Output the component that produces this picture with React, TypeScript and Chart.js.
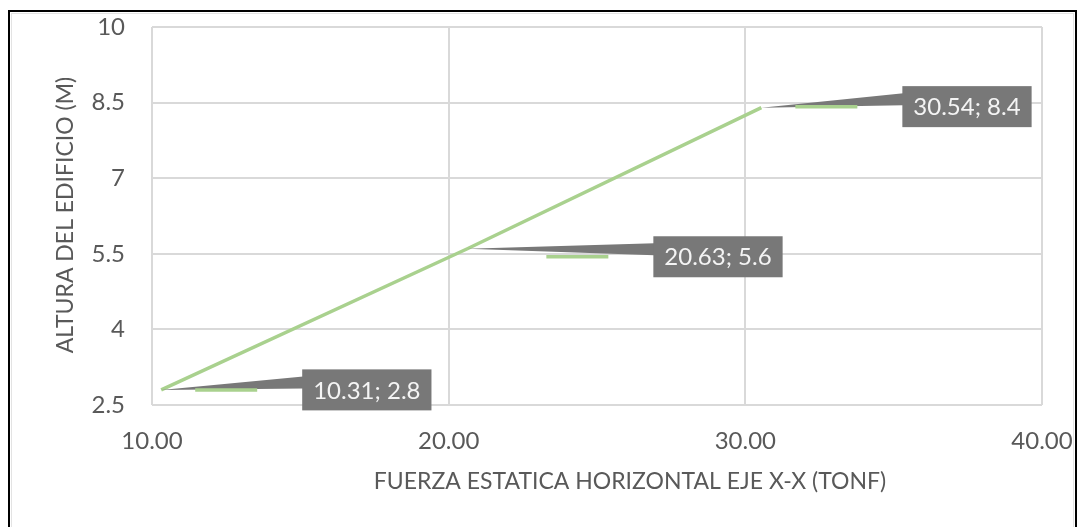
import React, { useEffect, useRef } from "react";
import { Chart, registerables } from "chart.js";

Chart.register(...registerables);

// Fuerza estática horizontal por nivel (tonf) y altura del nivel (m)
const fuerza: number[] = [10.31, 20.63, 30.54];
const altura: number[] = [2.8, 5.6, 8.4];

// Ejes
const xTitle = "FUERZA ESTATICA HORIZONTAL EJE X-X (TONF)";
const yTitle = "ALTURA DEL EDIFICIO (M)";
const xMin = 10;
const xMax = 40;
const xStep = 10;
const yMin = 2.5;
const yMax = 10;
const yStep = 1.5;

// Desplazamiento de cada etiqueta respecto a su punto (px)
const calloutOffsets: { dx: number; dy: number }[] = [
  { dx: 141, dy: 0 },
  { dx: 186, dy: 8 },
  { dx: 141, dy: -1 },
];

const FONT = "Lato, 'Open Sans', sans-serif";
const TEXT_GREY = "#595959";
const GRID_GREY = "#d9d9d9";
const LINE_GREEN = "#a9d18e";
const CALLOUT_GREY = "#787878";

const W = 1079;
const H = 527;

const framePlugin = {
  id: "frame",
  beforeDraw(chart: any) {
    const ctx = chart.ctx;
    ctx.save();
    ctx.fillStyle = "#ffffff";
    ctx.fillRect(0, 0, chart.width, chart.height);
    ctx.restore();
  },
  afterDraw(chart: any) {
    const ctx = chart.ctx;
    ctx.save();
    // axis titles
    ctx.fillStyle = TEXT_GREY;
    ctx.font = `23px ${FONT}`;
    ctx.textAlign = "center";
    ctx.textBaseline = "middle";
    ctx.fillText(xTitle, 630, 482);
    ctx.save();
    ctx.translate(66, 215);
    ctx.rotate(-Math.PI / 2);
    ctx.fillText(yTitle, 0, 0);
    ctx.restore();

    // outer frame
    ctx.strokeStyle = "#000000";
    ctx.lineWidth = 2;
    ctx.strokeRect(9, 11, 1067, 600);
    ctx.strokeStyle = "#e3e3e3";
    ctx.lineWidth = 1;
    ctx.strokeRect(11.5, 13.5, 1062, 600);
    ctx.restore();
  },
};

const calloutPlugin = {
  id: "callouts",
  afterDatasetsDraw(chart: any) {
    const ctx = chart.ctx;
    const meta = chart.getDatasetMeta(0);
    ctx.save();
    ctx.font = `24px ${FONT}`;
    meta.data.forEach((pt: any, i: number) => {
      const label = `${fuerza[i].toFixed(2)}; ${altura[i]}`;
      const off = calloutOffsets[i];
      const tw = ctx.measureText(label).width;
      const bw = tw + 22;
      const bh = 41;
      const left = pt.x + off.dx;
      const cy = pt.y + off.dy;
      const top = cy - bh / 2;

      // leader wedge
      ctx.fillStyle = CALLOUT_GREY;
      ctx.beginPath();
      ctx.moveTo(pt.x, pt.y);
      ctx.lineTo(left + 1, top + 7);
      ctx.lineTo(left + 1, top + 19);
      ctx.closePath();
      ctx.fill();

      // legend key of the series
      ctx.strokeStyle = LINE_GREEN;
      ctx.lineWidth = 3.5;
      ctx.beginPath();
      ctx.moveTo(left - 107, cy);
      ctx.lineTo(left - 45, cy);
      ctx.stroke();

      // box and text
      ctx.fillStyle = CALLOUT_GREY;
      ctx.fillRect(left, top, bw, bh);
      ctx.fillStyle = "#f4f4f4";
      ctx.textAlign = "center";
      ctx.textBaseline = "middle";
      ctx.fillText(label, left + bw / 2, cy + 1);
    });
    ctx.restore();
  },
};

export default function App() {
  const canvasRef = useRef<HTMLCanvasElement | null>(null);

  useEffect(() => {
    document.body.style.margin = "0";
    const canvas = canvasRef.current;
    if (!canvas) return;
    const chart = new Chart(canvas, {
      type: "scatter",
      data: {
        datasets: [
          {
            data: fuerza.map((x, i) => ({ x, y: altura[i] })),
            showLine: true,
            borderColor: LINE_GREEN,
            borderWidth: 3.5,
            pointRadius: 0,
            pointHoverRadius: 0,
            tension: 0,
          },
        ],
      },
      options: {
        responsive: false,
        animation: false,
        devicePixelRatio: 1,
        layout: { padding: { left: 0, top: 27, right: 37, bottom: 0 } },
        plugins: {
          legend: { display: false },
          tooltip: { enabled: false },
          title: { display: false },
        },
        scales: {
          x: {
            type: "linear",
            min: xMin,
            max: xMax,
            ticks: {
              stepSize: xStep,
              color: TEXT_GREY,
              font: { family: FONT, size: 24 },
              padding: 22,
              maxRotation: 0,
              callback: (v: any) => Number(v).toFixed(2),
            },
            grid: { color: GRID_GREY, lineWidth: 2, drawTicks: false },
            border: { display: false },
            afterFit: (scale: any) => {
              scale.height = H - 405;
              scale.paddingLeft = 0;
              scale.paddingRight = 0;
            },
          },
          y: {
            type: "linear",
            min: yMin,
            max: yMax,
            ticks: {
              stepSize: yStep,
              color: TEXT_GREY,
              font: { family: FONT, size: 24 },
              padding: 27,
              callback: (v: any) => String(Math.round(Number(v) * 10) / 10),
            },
            grid: { color: GRID_GREY, lineWidth: 2, drawTicks: false },
            border: { display: false },
            afterFit: (scale: any) => {
              scale.width = 152;
              scale.paddingTop = 0;
              scale.paddingBottom = 0;
            },
          },
        },
      },
      plugins: [framePlugin, calloutPlugin],
    });
    return () => chart.destroy();
  }, []);

  return (
    <div style={{ width: W, height: H, position: "relative" }}>
      <canvas ref={canvasRef} width={W} height={H} style={{ display: "block" }} />
    </div>
  );
}
